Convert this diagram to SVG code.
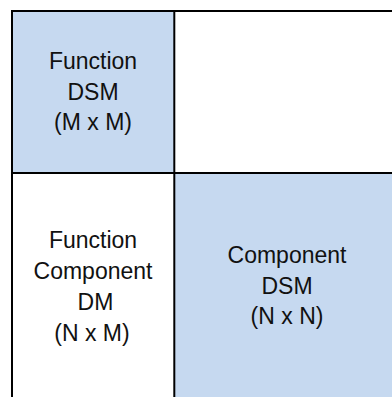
<svg xmlns="http://www.w3.org/2000/svg" width="392" height="397" viewBox="0 0 392 397">
<style>
.blue{fill:#C6D9F0;stroke:none}
.white{fill:#FFFFFF;stroke:none}
.ln{stroke:#000;stroke-width:2;fill:none}
.t{font-family:"Liberation Sans",Arial,sans-serif;font-size:23px;fill:#111;text-anchor:middle}
</style>
<rect x="0" y="0" width="392" height="397" fill="#FFFFFF"/>
<g id="function-dsm">
<rect class="blue" x="12" y="11" width="162" height="162"/>
<text class="t" x="93" y="68.5">Function</text>
<text class="t" x="93" y="99.5">DSM</text>
<text class="t" x="93" y="130">(M x M)</text>
</g>
<g id="empty-cell">
<rect class="white" x="174" y="11" width="218" height="162"/>
</g>
<g id="function-component-dm">
<rect class="white" x="12" y="173" width="162" height="224"/>
<text class="t" x="93" y="247.5">Function</text>
<text class="t" x="93" y="278.5">Component</text>
<text class="t" x="95.5" y="309.5">DM</text>
<text class="t" x="92" y="340.5">(N x M)</text>
</g>
<g id="component-dsm">
<rect class="blue" x="174" y="173" width="218" height="224"/>
<text class="t" x="287" y="262.7">Component</text>
<text class="t" x="287" y="293.5">DSM</text>
<text class="t" x="287" y="324">(N x N)</text>
</g>
<g id="grid">
<line class="ln" x1="12" y1="11" x2="392" y2="11"/>
<line class="ln" x1="12" y1="10" x2="12" y2="397"/>
<line class="ln" x1="174.3" y1="10" x2="174.3" y2="397"/>
<line class="ln" x1="12" y1="173" x2="392" y2="173"/>
</g>
</svg>
